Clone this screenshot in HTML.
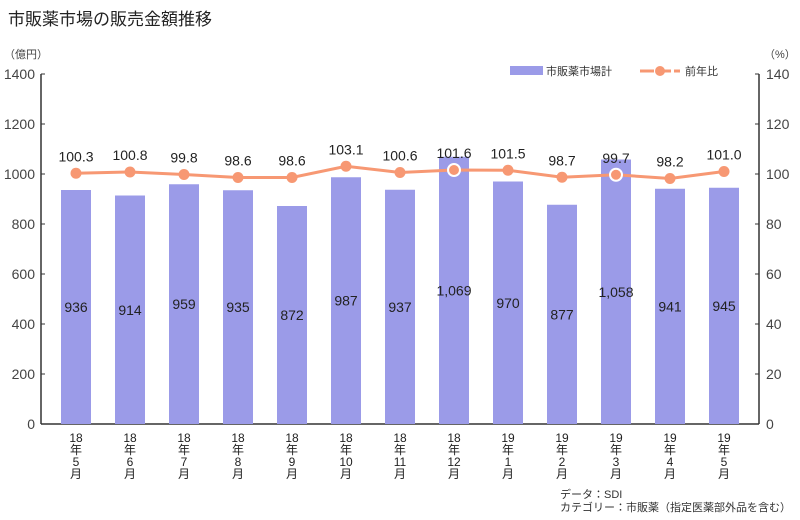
<!DOCTYPE html>
<html><head><meta charset="utf-8"><style>
body{margin:0;background:#fff;}
svg text{font-family:"Liberation Sans","Noto Sans CJK JP",sans-serif;}
</style></head><body>
<svg width="800" height="515" xmlns="http://www.w3.org/2000/svg">
<text x="8" y="25" font-size="17" fill="#222">市販薬市場の販売金額推移</text>
<text x="4" y="58" font-size="11" fill="#444">（億円）</text>
<text x="764" y="58" font-size="11" fill="#444">（%）</text>
<g id="axes"></g><g id="bars"></g><g id="line"></g><g id="xlabels"></g>
<g>
<rect x="510" y="66" width="33" height="9" fill="#9b9be8"/>
<text x="546" y="75" font-size="11" fill="#333">市販薬市場計</text>
<line x1="640" y1="71" x2="680" y2="71" stroke="#f79873" stroke-width="3" stroke-dasharray="14,3"/>
<circle cx="660" cy="71" r="5" fill="#f79873"/>
<text x="685" y="75" font-size="11" fill="#333">前年比</text>
</g>
<text x="560" y="498" font-size="11" fill="#333">データ：SDI</text>
<text x="560" y="511" font-size="11" fill="#333">カテゴリー：市販薬（指定医薬部外品を含む）</text>
</svg>
<script>
const categories=[["18","年","5","月"],["18","年","6","月"],["18","年","7","月"],["18","年","8","月"],["18","年","9","月"],["18","年","10","月"],["18","年","11","月"],["18","年","12","月"],["19","年","1","月"],["19","年","2","月"],["19","年","3","月"],["19","年","4","月"],["19","年","5","月"]];
const sales=[936,914,959,935,872,987,937,1069,970,877,1058,941,945];
const yoy=[100.3,100.8,99.8,98.6,98.6,103.1,100.6,101.6,101.5,98.7,99.7,98.2,101.0];
const leftTicks=[0,200,400,600,800,1000,1200,1400];
const rightTicks=[0,20,40,60,80,100,120,140];
const highlighted=[7,10];
const NS="http://www.w3.org/2000/svg";
const X0=41,X1=759,Y0=424,Y1=74;
const x=i=>76+54*i;
const yL=v=>Y0-(v/1400)*(Y0-Y1);
const yR=v=>Y0-(v/140)*(Y0-Y1);
function mk(tag,attrs,parent,txt){const e=document.createElementNS(NS,tag);for(const k in attrs)e.setAttribute(k,attrs[k]);if(txt!==undefined)e.textContent=txt;document.getElementById(parent).appendChild(e);return e;}
let e;
e=mk("line",{x1:X0,y1:Y1,x2:X0,y2:Y0,stroke:"#333","stroke-width":1.5},"axes");


e=mk("line",{x1:X1,y1:Y1,x2:X1,y2:Y0,stroke:"#333","stroke-width":1.5},"axes");


e=mk("line",{x1:X0,y1:Y0,x2:X1,y2:Y0,stroke:"#333","stroke-width":1.5},"axes");


leftTicks.forEach(t=>{
 e=mk("line",{x1:X0,y1:yL(t),x2:X0+4,y2:yL(t),stroke:"#333"},"axes");
 
 
 e=mk("text",{x:35,y:yL(t)+5,"font-size":14,"text-anchor":"end",fill:"#444"},"axes",String(t));
 
 
});
rightTicks.forEach(t=>{
 e=mk("line",{x1:X1-4,y1:yR(t),x2:X1,y2:yR(t),stroke:"#333"},"axes");
 
 
 e=mk("text",{x:766,y:yR(t)+5,"font-size":14,fill:"#444"},"axes",String(t));
 
 
});
sales.forEach((v,i)=>{
 e=mk("rect",{x:x(i)-15,y:yL(v),width:30,height:Y0-yL(v),fill:"#9b9be8"},"bars");
 
 
 e=mk("text",{x:x(i),y:(yL(v)+Y0)/2+5,"font-size":14,"text-anchor":"middle",fill:"#222"},"bars",v.toLocaleString("en-US"));
 
 
});
e=mk("polyline",{points:yoy.map((v,i)=>x(i)+","+yR(v)).join(" "),fill:"none",stroke:"#f79873","stroke-width":3},"line");


yoy.forEach((v,i)=>{
 const hl=highlighted.includes(i);
 e=mk("circle",{cx:x(i),cy:yR(v),r:hl?6:5.5,fill:"#f79873",stroke:hl?"#fff":"none","stroke-width":2},"line");
 
 
 e=mk("text",{x:x(i),y:yR(v)-12,"font-size":14,"text-anchor":"middle",fill:"#222"},"line",v.toFixed(1));
 
 
});
categories.forEach((c,i)=>{
 c.forEach((s,j)=>{
  e=mk("text",{x:x(i),y:442+j*12,"font-size":12,"text-anchor":"middle",fill:"#222"},"xlabels",s);
  
  
 });
});
</script>
</body></html>
